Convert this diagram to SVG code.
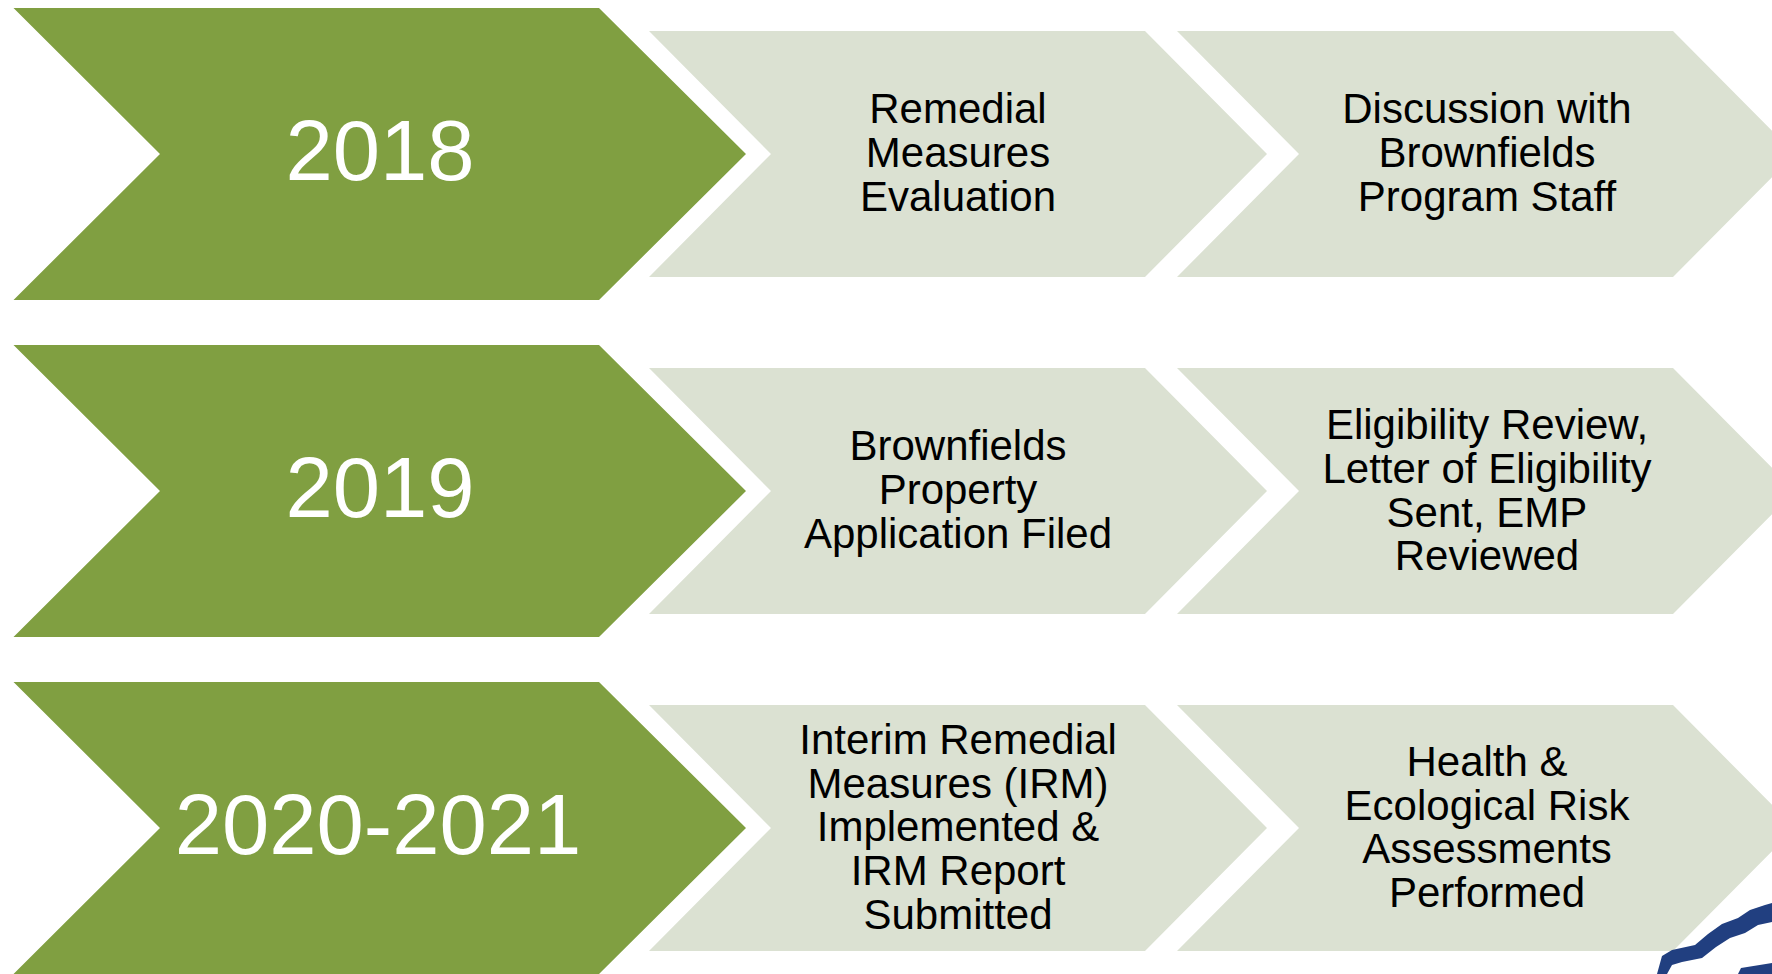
<svg xmlns="http://www.w3.org/2000/svg" width="1772" height="974" viewBox="0 0 1772 974">
  <defs>
    <style>
      .year { fill: #809F41; }
      .step { fill: #DBE1D2; }
      .yt { font-family: "Liberation Sans", Arial, sans-serif; font-size: 85px; fill: #FFFFFF; text-anchor: middle; }
      .st { font-family: "Liberation Sans", Arial, sans-serif; font-size: 42px; fill: #000000; text-anchor: middle; }
    </style>
    <!-- chevron shapes, origin at the left edge, vertical centre -->
    <polygon id="yearChevron" points="13.5,-146 599,-146 746,0 599,146 13.5,146 160,0"/>
    <polygon id="stepChevron" points="0,-123 496,-123 618,0 496,123 0,123 122,0"/>
  </defs>

  <rect width="1772" height="974" fill="#FFFFFF"/>

  <!-- Row 1: 2018 -->
  <g id="year-2018">
    <use href="#yearChevron" class="year" transform="translate(0,154)"/>
    <text class="yt" x="380" y="180">2018</text>
  </g>
  <g id="step-remedial-evaluation">
    <use href="#stepChevron" class="step" transform="translate(649,154)"/>
    <text class="st" x="958" y="123">Remedial</text>
    <text class="st" x="958" y="167">Measures</text>
    <text class="st" x="958" y="211">Evaluation</text>
  </g>
  <g id="step-discussion">
    <use href="#stepChevron" class="step" transform="translate(1177,154)"/>
    <text class="st" x="1487" y="123">Discussion with</text>
    <text class="st" x="1487" y="167">Brownfields</text>
    <text class="st" x="1487" y="211">Program Staff</text>
  </g>

  <!-- Row 2: 2019 -->
  <g id="year-2019">
    <use href="#yearChevron" class="year" transform="translate(0,491)"/>
    <text class="yt" x="380" y="517">2019</text>
  </g>
  <g id="step-application">
    <use href="#stepChevron" class="step" transform="translate(649,491)"/>
    <text class="st" x="958" y="460">Brownfields</text>
    <text class="st" x="958" y="504">Property</text>
    <text class="st" x="958" y="548">Application Filed</text>
  </g>
  <g id="step-eligibility">
    <use href="#stepChevron" class="step" transform="translate(1177,491)"/>
    <text class="st" x="1487" y="439">Eligibility Review,</text>
    <text class="st" x="1487" y="483">Letter of Eligibility</text>
    <text class="st" x="1487" y="527">Sent, EMP</text>
    <text class="st" x="1487" y="570">Reviewed</text>
  </g>

  <!-- Row 3: 2020-2021 -->
  <g id="year-2020-2021">
    <use href="#yearChevron" class="year" transform="translate(0,828)"/>
    <text class="yt" x="378" y="854">2020-2021</text>
  </g>
  <g id="step-irm">
    <use href="#stepChevron" class="step" transform="translate(649,828)"/>
    <text class="st" x="958" y="754">Interim Remedial</text>
    <text class="st" x="958" y="798">Measures (IRM)</text>
    <text class="st" x="958" y="841">Implemented &amp;</text>
    <text class="st" x="958" y="885">IRM Report</text>
    <text class="st" x="958" y="929">Submitted</text>
  </g>
  <g id="step-risk">
    <use href="#stepChevron" class="step" transform="translate(1177,828)"/>
    <text class="st" x="1487" y="776">Health &amp;</text>
    <text class="st" x="1487" y="820">Ecological Risk</text>
    <text class="st" x="1487" y="863">Assessments</text>
    <text class="st" x="1487" y="907">Performed</text>
  </g>

  <!-- connectors: none, the chevrons abut each other -->
  <g id="connectors"/>

  <!-- corner logo fragment -->
  <g id="logo-fragment">
    <rect x="1639" y="951" width="133" height="23" fill="#FFFFFF"/>
    <polygon fill="#213F80" points="1657,974 1662,956 1672,950 1695,945 1708,934 1722,924 1738,918 1750,910 1765,905 1772,903 1772,922 1758,925 1745,933 1730,938 1716,947 1702,958 1682,962 1672,965 1667,974"/>
    <polygon fill="#213F80" points="1738,974 1741,968 1772,963 1772,974"/>
  </g>
</svg>
